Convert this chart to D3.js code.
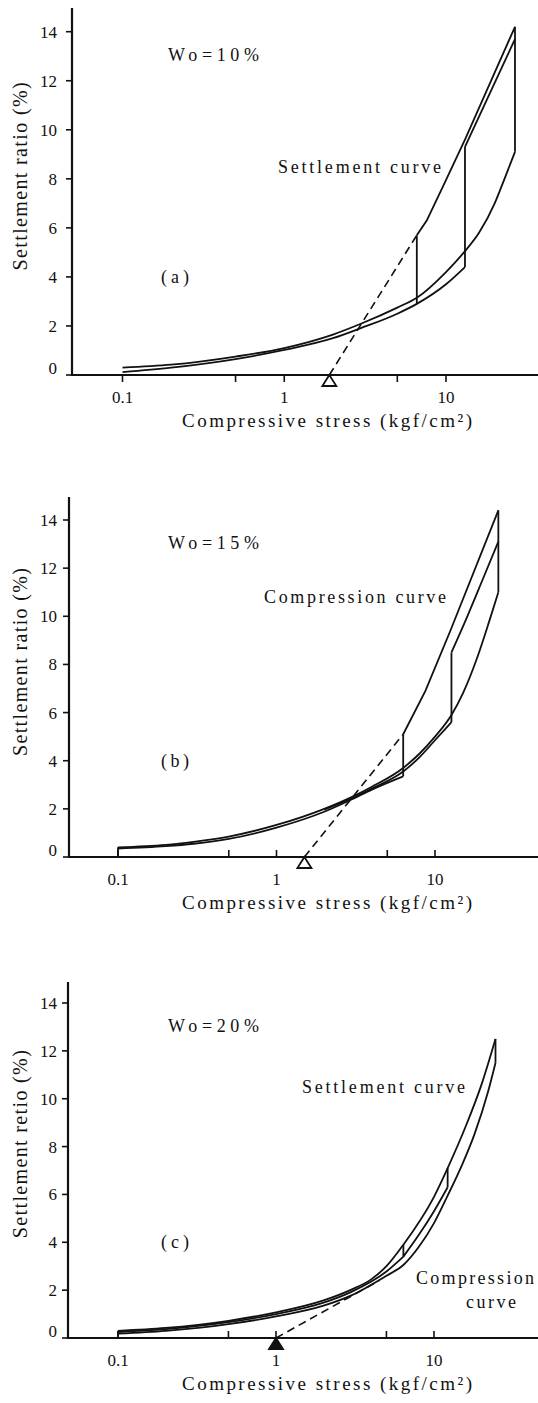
<!DOCTYPE html>
<html>
<head>
<meta charset="utf-8">
<script src="https://cdn.jsdelivr.net/npm/d3@7"></script>
<style>
body { margin: 0; background: #fff; }
text { font-family: "Liberation Serif", "DejaVu Serif", serif; fill: #111; }
</style>
</head>
<body>
<script>
// ticks
var xTicks = [0.1, 0.5, 1, 5, 10];
var xTickLabels = ["0.1", "", "1", "", "10"];
var yTicks = [0, 2, 4, 6, 8, 10, 12, 14];

// (a) Wo=10%  [stress, settlement]
var aCompA = [[0.1,0.3],[0.2,0.42],[0.5,0.75],[1,1.1],[2,1.65],[3,2.1],[5,2.75],[6.6,3.15],[10,4.2],[13.1,5.05],[16,5.8],[20,7.0],[23,8.0],[26.7,9.1]];
var aCompB = [[0.1,0.12],[0.2,0.3],[0.5,0.65],[1,1.02],[2,1.5],[3,1.92],[5,2.5],[6.6,2.9],[10,3.7],[13.1,4.4]];
var aSettle = [[6.6,5.7],[7.6,6.3],[9.6,7.7],[13.1,9.6],[26.7,14.2]];
var aReload = [[13.1,9.3],[26.7,13.7]];
var aSoak = [[6.6,2.9,5.7],[13.1,4.4,9.3],[26.7,9.1,14.2]];   // [stress, from, to]
var aDash = [[1.9,0],[6.6,5.7]];
var aMark = 1.9;

// (b) Wo=15%
var bCompA = [[0.1,0.4],[0.2,0.5],[0.3,0.63],[0.5,0.85],[1,1.33],[2,2.0],[3,2.5],[4,2.92],[6.3,3.7],[8,4.3],[10,5.0],[12.7,5.9],[15,6.8],[18.5,8.3],[22,9.8],[25.1,11.0]];
var bCompB = [[0.1,0.35],[0.2,0.45],[0.3,0.55],[0.5,0.75],[1,1.22],[2,1.88],[3,2.4],[4,2.8],[6.3,3.35]];
var bCompC = [[2,1.97],[3,2.44],[4,2.84],[6.3,3.55],[8,4.15],[10,4.85],[12.7,5.6]];
var bSettle = [[6.3,5.1],[8.7,6.9],[12.5,9.4],[25.1,14.4]];
var bReload = [[12.7,8.5],[16,10.0],[20.2,11.6],[25.1,13.1]];
var bSoak = [[0.1,0,0.4],[6.3,3.35,5.1],[12.7,5.6,8.5],[25.1,11.0,14.4]];
var bDash = [[1.5,0],[6.3,5.1]];
var bMark = 1.5;

// (c) Wo=20%
var cSettle = [[0.1,0.3],[0.2,0.42],[0.5,0.72],[1,1.07],[2,1.57],[3,2.02],[4,2.45],[5,3.0],[6.4,3.9],[10,5.9],[12.2,7.1],[16,8.9],[20,10.6],[24.5,12.5]];
var cCompX = [[0.1,0.25],[0.2,0.37],[0.5,0.66],[1,1.0],[2,1.48],[3,1.93],[5,2.78],[6.4,3.4]];
var cCompY = [[6.4,3.4],[8,4.3],[10,5.3],[12.2,6.3]];
var cCompZ = [[0.1,0.18],[0.2,0.3],[0.5,0.58],[1,0.9],[2,1.35],[3,1.78],[5,2.6],[6.4,3.05],[8,3.8],[10,4.8],[12.2,5.95],[15.2,7.3],[18,8.5],[22,10.3],[24.5,11.5]];
var cSoak = [[0.1,0.05,0.3],[6.4,3.4,3.9],[12.2,6.3,7.1],[24.5,11.5,12.5]];
var cDash = [[1,0],[4.5,2.4]];
var cMark = 1;

var W = 538, H = 1403;
var svg = d3.select("body").append("svg").attr("width", W).attr("height", H);

// layout of the three panels
var panels = [
    { axisX: 72, axisY: 375, top: 8, x01: 122.5, x10: 446, y14: 31.7, tickDir: 1,
      curves: [aCompA, aCompB], straight: [aSettle, aReload], soak: aSoak, dash: aDash, mark: aMark, filled: false,
      wo: "Wo=10%", tag: "(a)", ytitle: "Settlement ratio (%)",
      notes: [{ t: "Settlement curve", x: 278, y: 173, len: 163 }] },
    { axisX: 69, axisY: 857, top: 497, x01: 118, x10: 435, y14: 520, tickDir: -1,
      curves: [bCompA, bCompB, bCompC, bReload], straight: [bSettle], soak: bSoak, dash: bDash, mark: bMark, filled: false,
      wo: "Wo=15%", tag: "(b)", ytitle: "Settlement ratio (%)",
      notes: [{ t: "Compression curve", x: 264, y: 603, len: 182 }] },
    { axisX: 68, axisY: 1338, top: 982, x01: 118, x10: 434, y14: 1003, tickDir: -1,
      curves: [cSettle, cCompX, cCompY, cCompZ], straight: [], soak: cSoak, dash: cDash, mark: cMark, filled: true,
      wo: "Wo=20%", tag: "(c)", ytitle: "Settlement retio (%)",
      notes: [{ t: "Settlement curve", x: 302, y: 1093, len: 163 },
              { t: "Compression", x: 416, y: 1284, len: 118 },
              { t: "curve", x: 466, y: 1308, len: 50 }] }
];

function label(g, t, x, y, size, len) {
    var el = g.append("text").attr("x", x).attr("y", y).style("font-size", size + "px").text(t);
    if (len) el.attr("textLength", len).attr("lengthAdjust", "spacing");
    return el;
}

panels.forEach(function (p) {
    var x = d3.scaleLog().domain([0.1, 10]).range([p.x01, p.x10]);
    var y = d3.scaleLinear().domain([0, 14]).range([p.axisY, p.y14]);
    var g = svg.append("g");

    var smooth = d3.line().x(d => x(d[0])).y(d => y(d[1])).curve(d3.curveMonotoneX);
    var lin = d3.line().x(d => x(d[0])).y(d => y(d[1]));

    // axes
    g.append("line").attr("x1", p.axisX).attr("x2", p.axisX).attr("y1", p.top).attr("y2", p.axisY + 1)
        .attr("stroke", "#111").attr("stroke-width", 2.2);
    g.append("line").attr("x1", p.axisX - 1).attr("x2", W).attr("y1", p.axisY).attr("y2", p.axisY)
        .attr("stroke", "#111").attr("stroke-width", 2.2);

    yTicks.forEach(function (v) {
        g.append("line").attr("x1", p.axisX - 6).attr("x2", p.axisX).attr("y1", y(v)).attr("y2", y(v))
            .attr("stroke", "#111").attr("stroke-width", 1.6);
        label(g, v, 57, y(v) + (v === 0 ? -1 : 6), 17).attr("text-anchor", "end");
    });
    xTicks.forEach(function (v, i) {
        g.append("line").attr("x1", x(v)).attr("x2", x(v)).attr("y1", p.axisY).attr("y2", p.axisY + 7 * p.tickDir)
            .attr("stroke", "#111").attr("stroke-width", 1.6);
        if (xTickLabels[i]) label(g, xTickLabels[i], x(v), p.axisY + 28, 17).attr("text-anchor", "middle");
    });

    // curves
    p.curves.forEach(function (c) {
        g.append("path").attr("d", smooth(c)).attr("fill", "none").attr("stroke", "#111").attr("stroke-width", 1.8);
    });
    p.straight.forEach(function (c) {
        g.append("path").attr("d", lin(c)).attr("fill", "none").attr("stroke", "#111").attr("stroke-width", 1.8);
    });
    p.soak.forEach(function (s) {
        g.append("line").attr("x1", x(s[0])).attr("x2", x(s[0])).attr("y1", y(s[1])).attr("y2", y(s[2]))
            .attr("stroke", "#111").attr("stroke-width", 1.8);
    });
    g.append("path").attr("d", lin(p.dash)).attr("fill", "none").attr("stroke", "#111")
        .attr("stroke-width", 1.6).attr("stroke-dasharray", "8,5");

    // triangle marker under the axis
    var mx = x(p.mark);
    g.append("path")
        .attr("d", "M" + mx + "," + p.axisY + "L" + (mx + 7) + "," + (p.axisY + 11) + "L" + (mx - 7) + "," + (p.axisY + 11) + "Z")
        .attr("fill", p.filled ? "#111" : "#fff").attr("stroke", "#111").attr("stroke-width", 1.8);

    // texts
    label(g, p.wo, 168, p.y14 + 29, 18, 91);
    label(g, p.tag, 161, y(4) + 6, 18, 28);
    p.notes.forEach(n => label(g, n.t, n.x, n.y, 18, n.len));
    label(g, p.ytitle, 0, 0, 20, 188).attr("text-anchor", "middle")
        .attr("transform", "translate(27," + y(8.1) + ") rotate(-90)");
    label(g, "Compressive stress (kgf/cm²)", 182, p.axisY + 52, 19, 290);
});
</script>
</body>
</html>
